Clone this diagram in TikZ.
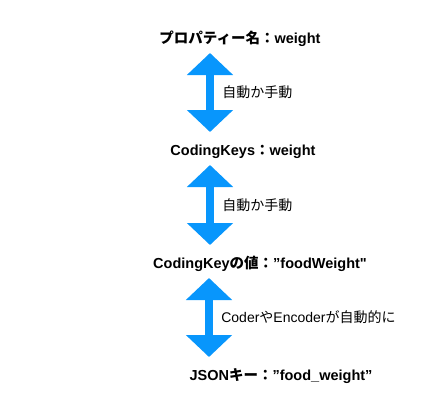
\documentclass[tikz,border=0pt]{standalone}
\usepackage{fontspec}
\newfontfamily\latinfont{Liberation Sans}
\newfontfamily\jpfont{Noto Sans CJK JP}
\newfontfamily\jpboldfont{Noto Sans CJK JP Bold}
\usetikzlibrary{arrows.meta}
\definecolor{arrowblue}{RGB}{8,150,252}
\tikzset{
  keytitle/.style={anchor=base, font=\latinfont\bfseries\fontsize{14.5}{17}\selectfont},
  steplabel/.style={anchor=west, text=black, font=\latinfont\fontsize{14}{16}\selectfont},
  bigarrow/.style={arrowblue, line width=8pt,
    {Triangle[width=45pt,length=22pt]}-{Triangle[width=45pt,length=22pt]}}
}
\begin{document}
\begin{tikzpicture}[x=1pt, y=-1pt]
\useasboundingbox (0,0) rectangle (442,416);
\node[keytitle] (prop) at (240,43) {{\jpboldfont プロパティー名：}weight};
\node[keytitle] (keys) at (243,155) {CodingKeys{\jpboldfont ：}weight};
\node[keytitle] (value) at (260,268) {CodingKey{\jpboldfont の値：}”foodWeight"};
\node[keytitle] (json) at (281,380) {JSON{\jpboldfont キー：}”food\_weight”};
\coordinate (a1top) at (210,53);
\coordinate (a1bot) at (210,132);
\coordinate (a2top) at (210,165);
\coordinate (a2bot) at (210,245);
\coordinate (a3top) at (209,278);
\coordinate (a3bot) at (209,357);
\draw[bigarrow] (a1top) -- (a1bot) node[midway, steplabel, xshift=5pt] (l1) {\jpfont 自動か手動};
\draw[bigarrow] (a2top) -- (a2bot) node[midway, steplabel, xshift=5pt] (l2) {\jpfont 自動か手動};
\draw[bigarrow] (a3top) -- (a3bot) node[midway, steplabel, xshift=5pt] (l3) {Coder{\jpfont や}Encoder{\jpfont が自動的に}};
\end{tikzpicture}
\end{document}
